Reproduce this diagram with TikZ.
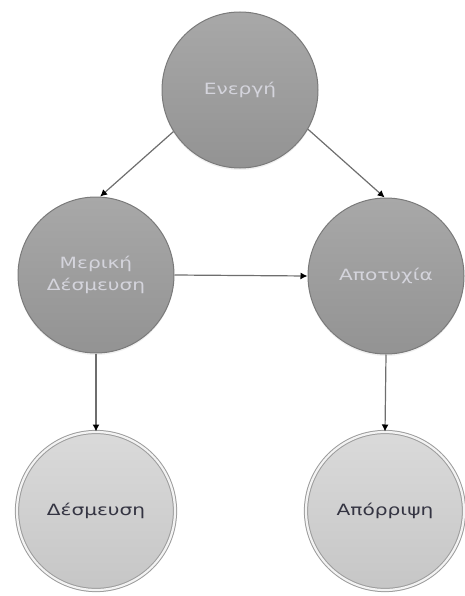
\documentclass[tikz,border=0pt]{standalone}
\usepackage{fontspec}
\newfontfamily\lab[FakeStretch=1.3]{DejaVu Sans}
\usetikzlibrary{arrows.meta,shadows}

\definecolor{stateborder}{HTML}{7A7A7A}
\definecolor{statetop}{HTML}{A8A8A8}
\definecolor{statebot}{HTML}{939393}
\definecolor{statetext}{HTML}{D4D4DC}
\definecolor{finaltop}{HTML}{DADADA}
\definecolor{finalbot}{HTML}{C6C6C6}
\definecolor{finalring}{HTML}{9C9C9C}
\definecolor{finaltext}{HTML}{343442}
\definecolor{edgecol}{HTML}{6E6E6E}

\tikzset{
  state/.style={circle, draw=stateborder, line width=1pt,
    top color=statetop, bottom color=statebot,
    minimum size=156pt, inner sep=0pt, align=center,
    text=statetext, font=\lab\fontsize{15.5}{22}\selectfont,
    drop shadow={opacity=0.12, shadow xshift=0pt, shadow yshift=-2pt}},
  final/.style={circle, draw=finalring, line width=1pt,
    double=white!88!finalring, double distance=2.2pt,
    top color=finaltop, bottom color=finalbot,
    minimum size=158pt, inner sep=0pt,
    text=finaltext, font=\lab\fontsize{15.5}{22}\selectfont,
    drop shadow={opacity=0.12, shadow xshift=0pt, shadow yshift=-2pt}},
  edge/.style={draw=edgecol, line width=1.2pt,
    -{Latex[color=black, length=7pt, width=7pt]}}
}

\begin{document}
\begin{tikzpicture}[x=1pt, y=-1pt]
  \useasboundingbox (0,0) rectangle (464,596);

  \node[state] (en)  at (240,90)  {Ενεργή};
  \node[state] (mer) at (96,275)  {Μερική\\Δέσμευση};
  \node[state] (apo) at (386,276) {Αποτυχία};
  \node[final] (des) at (96,511)  {Δέσμευση};
  \node[final] (apr) at (385,511) {Απόρριψη};

  \draw[edge] (en.212) -- (mer.87);
  \draw[edge] (en.330) -- (apo.91);
  \draw[edge] (mer.east) -- (apo.west);
  \draw[edge] (mer.south) -- (des.north);
  \draw[edge] (apo.south) -- (apr.north);
\end{tikzpicture}
\end{document}
